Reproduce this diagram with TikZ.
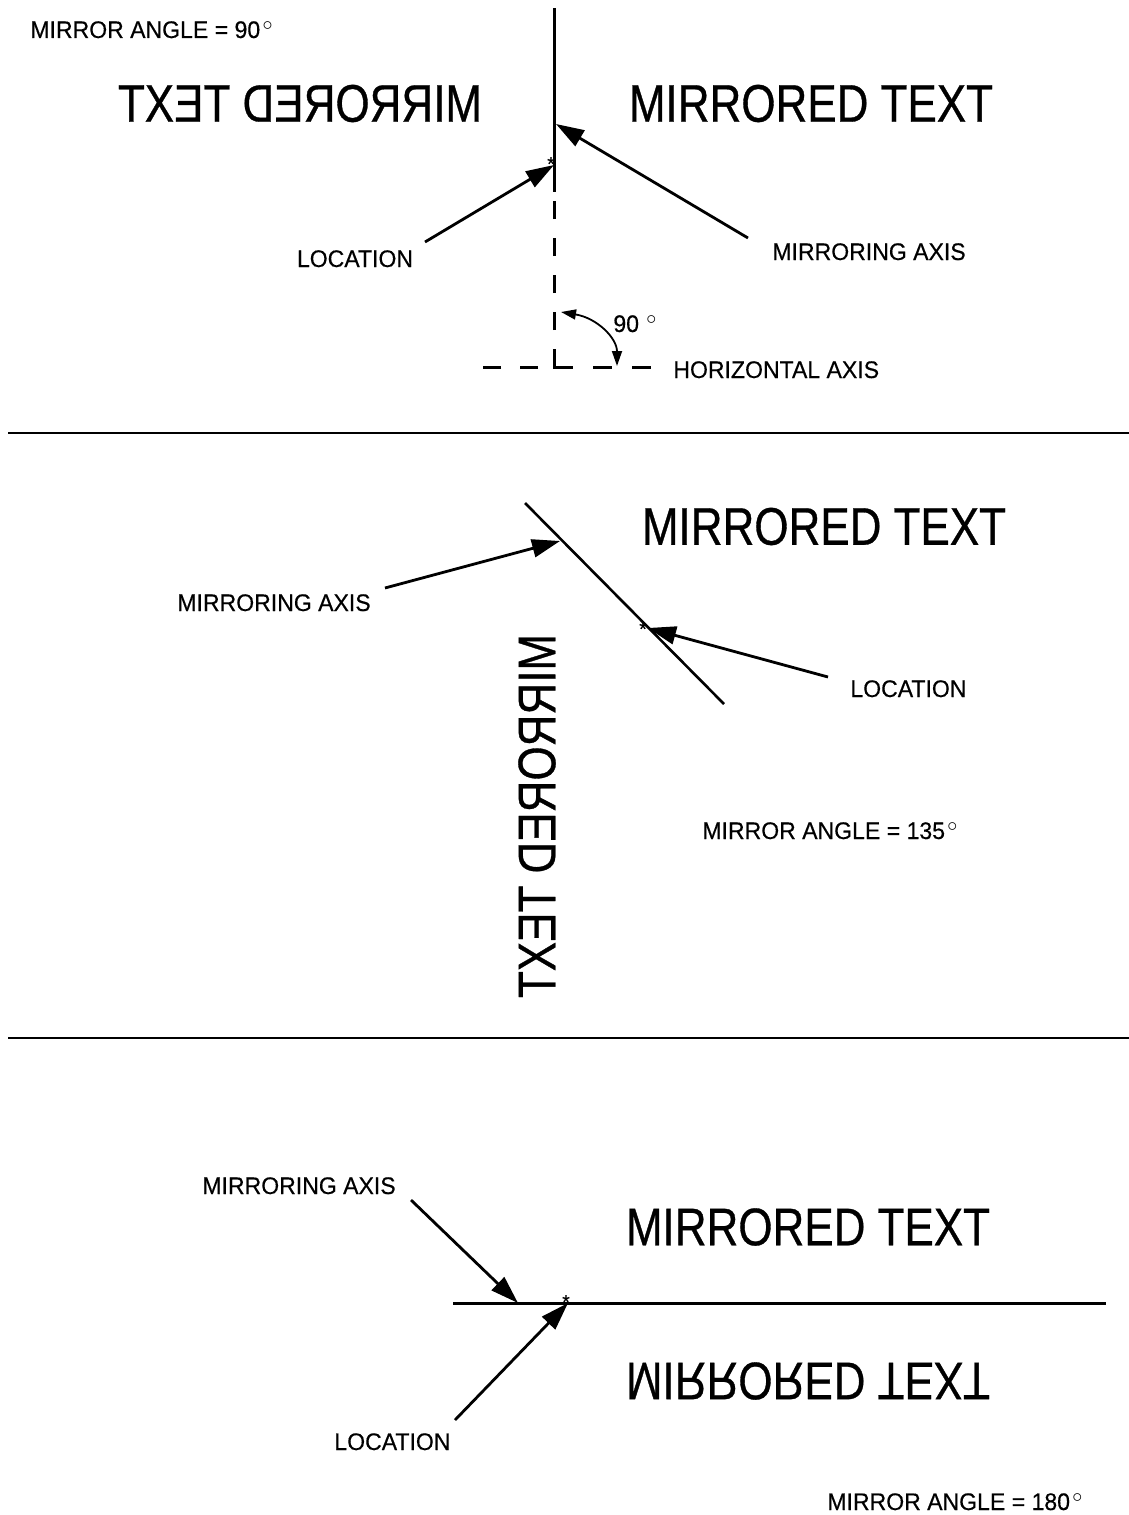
\documentclass[tikz,border=0pt]{standalone}
\usepackage{fontspec}
\usepackage{graphicx}
\setmainfont[FakeStretch=0.96,FakeBold=0.4]{Liberation Sans}
\newfontfamily\bigfont[FakeStretch=0.83,FakeBold=0.6]{Liberation Sans}
% raised degree circle
\newcommand{\dg}{\hspace{1.2pt}\raisebox{3.9pt}{\fontsize{10}{10}\selectfont$\circ$}}
\usetikzlibrary{arrows.meta}

\begin{document}
\begin{tikzpicture}[x=0.5pt,y=-0.5pt,
  lbl/.style={font=\fontsize{12}{14}\selectfont, inner sep=0pt},
  bigtext/.style={font=\bigfont\fontsize{26.5}{30}\selectfont, inner sep=0pt},
  locmark/.style={font=\fontsize{10}{10}\selectfont, inner sep=0pt},
  axisline/.style={line width=1.5pt},
  divider/.style={line width=1.2pt},
  pointer/.style={line width=1.4pt, -{Triangle[length=14pt,width=9pt]}},
  anglearrow/.style={line width=0.9pt, {Triangle[length=7.5pt,width=5pt]}-{Triangle[length=7.5pt,width=5pt]}}
]
\useasboundingbox (0,0) rectangle (1129,1515);

% ---------- mirror angle 90 ----------
\node[lbl, anchor=base west] (ang90) at (30,38) {MIRROR ANGLE = 90\dg};
\node[bigtext] (m90) at (300,103.5) {\scalebox{-1}[1]{MIRRORED TEXT}};
\node[bigtext] (t90) at (811,103.5) {MIRRORED TEXT};

\coordinate (axtop) at (554,8);
\coordinate (axend) at (554,192);
\coordinate (corner) at (554,367);
\draw[axisline] (axtop) -- (axend);
\draw[axisline, dash pattern=on 9pt off 9.5pt] (554,330) -- (axend);
\draw[axisline] (554,349) -- (corner) -- (573,367);
\draw[axisline, dash pattern=on 9.5pt off 10pt] (593,367) -- (651,367);
\draw[axisline, dash pattern=on 9pt off 9.5pt] (538,367) -- (483,367);

\node[locmark] (loc90) at (551,164) {*};
\node[lbl, anchor=base] (lloc90) at (355,267) {LOCATION};
\coordinate (lloc90t) at (425,242);
\draw[pointer] (lloc90t) -- (554,165);

\node[lbl, anchor=base west] (lax90) at (772,260) {MIRRORING AXIS};
\coordinate (lax90t) at (748,238);
\draw[pointer] (lax90t) -- (556,124);

\coordinate (arcA) at (561,312);
\coordinate (arcB) at (617,366);
\draw[anglearrow] (arcA) .. controls (597,318) and (617,338) .. (arcB);
\node[lbl, anchor=base west] (deg90) at (613,332) {90\hspace{2.5pt}\dg};
\node[lbl, anchor=base west] (hax) at (673,378) {HORIZONTAL AXIS};

% ---------- dividers ----------
\coordinate (d1a) at (8,433);
\coordinate (d1b) at (1129,433);
\coordinate (d2a) at (8,1038);
\coordinate (d2b) at (1129,1038);
\draw[divider] (d1a) -- (d1b);
\draw[divider] (d2a) -- (d2b);

% ---------- mirror angle 135 ----------
\node[bigtext] (t135) at (824,526.5) {MIRRORED TEXT};
\node[bigtext] (m135) at (537,816) {\rotatebox{90}{\scalebox{-1}[1]{MIRRORED TEXT}}};
\coordinate (diagA) at (525,503);
\coordinate (diagB) at (724,704);
\draw[axisline, line width=1.3pt] (diagA) -- (diagB);

\node[lbl, anchor=base west] (lax135) at (177,611) {MIRRORING AXIS};
\coordinate (lax135t) at (385,588);
\draw[pointer] (lax135t) -- (560,541);

\node[locmark] (loc135) at (643,629) {*};
\node[lbl, anchor=base west] (lloc135) at (850,697) {LOCATION};
\coordinate (lloc135t) at (828,677);
\draw[pointer] (lloc135t) -- (648,628);

\node[lbl, anchor=base west] (ang135) at (702,839) {MIRROR ANGLE = 135\dg};

% ---------- mirror angle 180 ----------
\node[lbl, anchor=base west] (lax180) at (202,1194) {MIRRORING AXIS};
\node[bigtext] (t180) at (808,1227) {MIRRORED TEXT};
\node[bigtext] (m180) at (808,1381) {\scalebox{1}[-1]{MIRRORED TEXT}};
\coordinate (hA) at (453,1303);
\coordinate (hB) at (1106,1303);
\draw[axisline] (hA) -- (hB);

\coordinate (lax180t) at (411,1200);
\draw[pointer] (lax180t) -- (518,1303);

\node[locmark] (loc180) at (566,1302) {*};
\node[lbl, anchor=base west] (lloc180) at (334,1450) {LOCATION};
\coordinate (lloc180t) at (455,1420);
\draw[pointer] (lloc180t) -- (568,1303);

\node[lbl, anchor=base west] (ang180) at (827,1510) {MIRROR ANGLE = 180\dg};
\end{tikzpicture}
\end{document}
